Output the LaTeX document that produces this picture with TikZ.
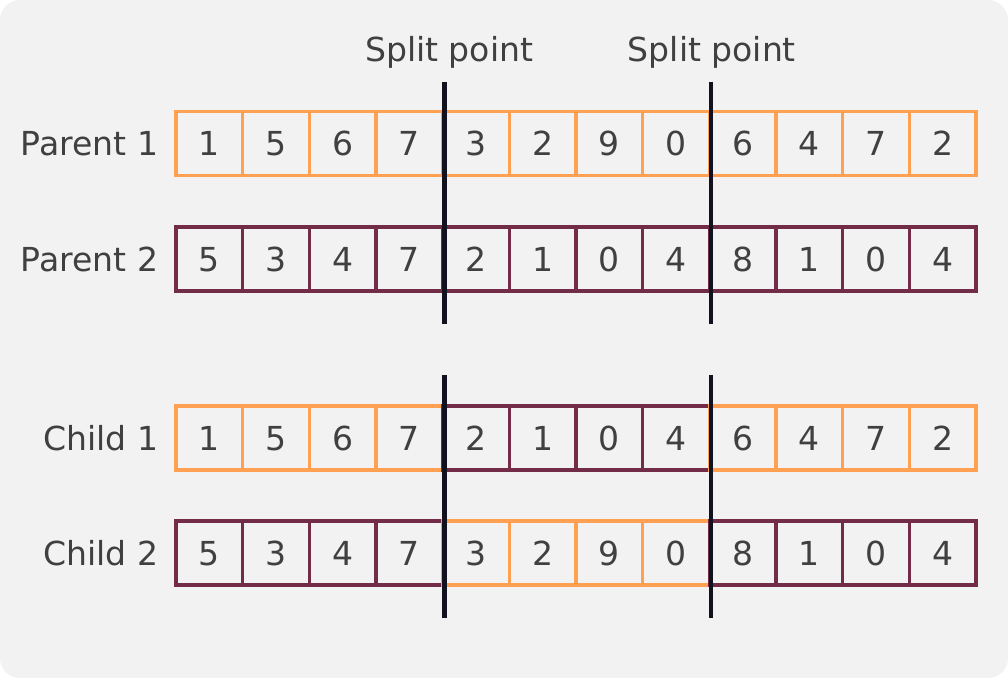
\documentclass[tikz,border=0pt]{standalone}
\usepackage{fontspec}
\setmainfont{DejaVu Sans}
\usetikzlibrary{calc}
\definecolor{bgpanel}{HTML}{F2F2F2}
\definecolor{geneA}{HTML}{FFA052}
\definecolor{geneB}{HTML}{722C48}
\definecolor{splitline}{HTML}{12121E}
\definecolor{txt}{HTML}{404040}
\begin{document}
\begin{tikzpicture}[x=0.025cm,y=-0.025cm,
    every node/.style={text=txt,font=\fontsize{23.5}{28}\selectfont},
    cell/.style={draw,line width=2.2pt,minimum width=1.667cm,minimum height=1.6cm,inner sep=0pt,
      text height=0.6cm,text depth=0pt},
    rowlabel/.style={anchor=east,inner sep=0pt,xshift=-0.4cm},
    split/.style={splitline,line width=3.4pt}]
  \fill[white](0,0) rectangle (1008,678);
  \fill[bgpanel,rounded corners=0.5cm](0,0) rectangle (1008,678);
  \useasboundingbox (0,0) rectangle (1008,678);

  % parents
  \foreach \v [count=\i] in {1,5,6,7,3,2,9,0,6,4,7,2}
    \node[cell,draw=geneA] (pa\i) at ({176+66.667*(\i-.5)},143.5) {\v};
  \foreach \v [count=\i] in {5,3,4,7,2,1,0,4,8,1,0,4}
    \node[cell,draw=geneB] (pb\i) at ({176+66.667*(\i-.5)},259) {\v};

  % children
  \foreach \v [count=\i] in {1,5,6,7,2,1,0,4,6,4,7,2}{
    \ifnum\i>4 \ifnum\i<9 \def\c{geneB}\else\def\c{geneA}\fi\else\def\c{geneA}\fi
    \node[cell,draw=\c] (ca\i) at ({176+66.667*(\i-.5)},438) {\v};}
  \foreach \v [count=\i] in {5,3,4,7,3,2,9,0,8,1,0,4}{
    \ifnum\i>4 \ifnum\i<9 \def\c{geneA}\else\def\c{geneB}\fi\else\def\c{geneB}\fi
    \node[cell,draw=\c] (cb\i) at ({176+66.667*(\i-.5)},553) {\v};}

  \node[rowlabel] (lpa) at (pa1.west) {Parent 1};
  \node[rowlabel] (lpb) at (pb1.west) {Parent 2};
  \node[rowlabel] (lca) at (ca1.west) {Child 1};
  \node[rowlabel] (lcb) at (cb1.west) {Child 2};

  % split points
  \coordinate (s1top) at ($(pa4.north east)+(0,-28)$);
  \coordinate (s1bot) at ($(pb4.south east)+(0,31)$);
  \coordinate (s2top) at ($(pa8.north east)+(0,-28)$);
  \coordinate (s2bot) at ($(pb8.south east)+(0,31)$);
  \coordinate (s3top) at ($(ca4.north east)+(0,-29)$);
  \coordinate (s3bot) at ($(cb4.south east)+(0,31)$);
  \coordinate (s4top) at ($(ca8.north east)+(0,-29)$);
  \coordinate (s4bot) at ($(cb8.south east)+(0,31)$);
  \draw[split] (s1top) -- (s1bot);
  \draw[split] (s2top) -- (s2bot);
  \draw[split] (s3top) -- (s3bot);
  \draw[split] (s4top) -- (s4bot);

  \node (sp1) at ($(s1top)+(5,-30)$) {Split point};
  \node (sp2) at ($(s2top)+(1,-30)$) {Split point};
\end{tikzpicture}
\end{document}
